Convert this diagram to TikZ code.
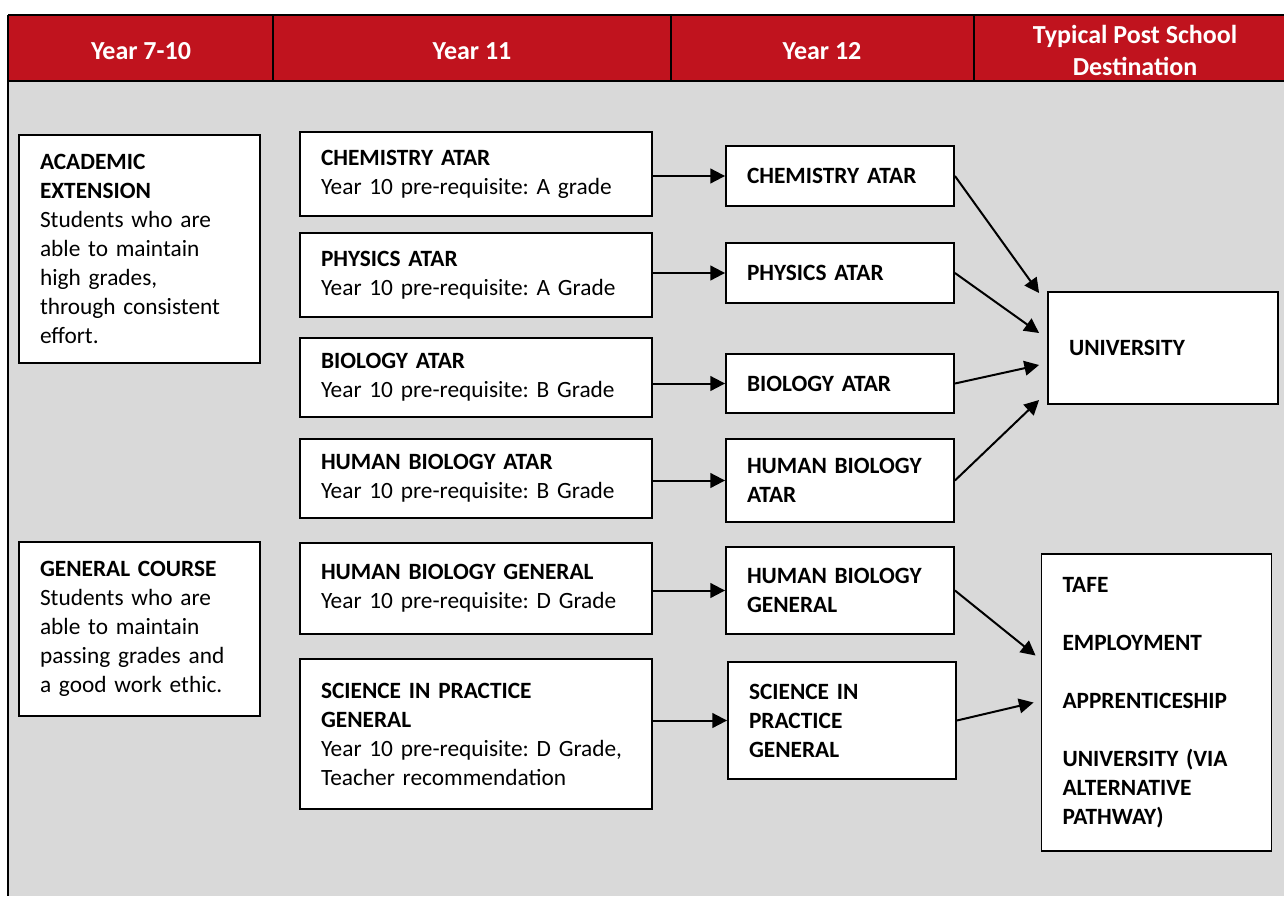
\documentclass[tikz,border=0pt]{standalone}
\usepackage{fontspec}
\setmainfont{Carlito}
\frenchspacing
\usetikzlibrary{arrows.meta}
\definecolor{headred}{HTML}{C0131E}
\definecolor{bodygrey}{HTML}{D9D9D9}
\begin{document}
\begin{tikzpicture}[x=0.75pt, y=-0.75pt, line width=1.4pt,
  head node/.style={text=white, font=\fontsize{19.5}{24}\selectfont\bfseries, align=center},
  main node/.style={draw=black, fill=white, align=left, inner xsep=15.75pt, inner ysep=0pt, font=\fontsize{17.5}{21.75}\selectfont, minimum height=#1*0.75pt},
  y10 node/.style={main node=#1, text width=149.25pt},
  y11 node/.style={main node=#1, text width=232.5pt},
  y12 node/.style={main node=#1, text width=139.5pt, font=\fontsize{17.5}{21.75}\selectfont\bfseries},
  post node/.style={main node=#1, text width=141pt, font=\fontsize{17.5}{21.75}\selectfont\bfseries},
  arr/.style={-{Triangle[length=11pt,width=11pt]}, line width=1.5pt}]
\useasboundingbox (0,0) rectangle (1284,896);
%background and header bar
\fill[bodygrey] (8,81) rectangle (1284,896);
\fill[headred] (8,15) rectangle (1284,81);
\draw (8,15) -- (1284,15) (8,81) -- (1284,81) (8,15) -- (8,896);
\foreach \x in {273,671,974} \draw (\x,15) -- (\x,81);
\begin{scope}
\node[head node] (h1) at (141,51) {Year 7-10};
\node[head node] (h2) at (472,51) {Year 11};
\node[head node] (h3) at (822,51) {Year 12};
\node[head node] (h4) at (1135,50) {Typical Post School\\Destination};
\end{scope}
\begin{scope}
\node[y10 node=228] (acad) at (139.5,249) {\textbf{ACADEMIC}\\\textbf{EXTENSION}\\Students who are\\able to maintain\\high grades,\\through consistent\\effort.};
\node[y10 node=174] (gen) at (139.5,629) {\textbf{GENERAL COURSE}\\Students who are\\able to maintain\\passing grades and\\a good work ethic.};
\node[y11 node=84] (chem11) at (476,174) {\textbf{CHEMISTRY ATAR}\\Year 10 pre-requisite: A grade};
\node[y11 node=84] (phys11) at (476,275) {\textbf{PHYSICS ATAR}\\Year 10 pre-requisite: A Grade};
\node[y11 node=79] (bio11) at (476,377.5) {\textbf{BIOLOGY ATAR}\\Year 10 pre-requisite: B Grade};
\node[y11 node=79] (hba11) at (476,478.5) {\textbf{HUMAN BIOLOGY ATAR}\\Year 10 pre-requisite: B Grade};
\node[y11 node=91] (hbg11) at (476,588.5) {\textbf{HUMAN BIOLOGY GENERAL}\\Year 10 pre-requisite: D Grade};
\node[y11 node=150] (sip11) at (476,734) {\textbf{SCIENCE IN PRACTICE}\\\textbf{GENERAL}\\Year 10 pre-requisite: D Grade,\\Teacher recommendation};
\node[y12 node=60] (chem12) at (840,176) {CHEMISTRY ATAR};
\node[y12 node=60] (phys12) at (840,273) {PHYSICS ATAR};
\node[y12 node=59] (bio12) at (840,383.5) {BIOLOGY ATAR};
\node[y12 node=83] (hba12) at (840,480.5) {HUMAN BIOLOGY\\ATAR};
\node[y12 node=87] (hbg12) at (840,590.5) {HUMAN BIOLOGY\\GENERAL};
\node[y12 node=117] (sip12) at (842,720.5) {SCIENCE IN\\PRACTICE\\GENERAL};
\node[post node=112] (uni) at (1163,348) {UNIVERSITY};
\node[post node=297] (dest) at (1156.5,702.5) {TAFE\\[21.75pt]EMPLOYMENT\\[21.75pt]APPRENTICESHIP\\[21.75pt]UNIVERSITY (VIA\\ALTERNATIVE\\PATHWAY)};
\end{scope}
\begin{scope}[arr]
\path (chem11.east |- chem12.west) edge (chem12.west);
\path (phys11.east |- phys12.west) edge (phys12.west);
\path (bio11.east |- bio12.west) edge (bio12.west);
\path (hba11.east |- hba12.west) edge (hba12.west);
\path (hbg11.east |- hbg12.west) edge (hbg12.west);
\path (sip11.east |- sip12.west) edge (sip12.west);
\path (chem12.east) edge ([shift={(-8,-55)}]uni.west);
\path (phys12.east) edge ([shift={(-8,-15)}]uni.west);
\path (bio12.east) edge ([shift={(-8,17)}]uni.west);
\path (hba12.east) edge ([shift={(-8,52)}]uni.west);
\path (hbg12.east) edge ([shift={(-5,-47)}]dest.west);
\path (sip12.east) edge ([shift={(-7,0)}]dest.west);
\end{scope}
\end{tikzpicture}
\end{document}
